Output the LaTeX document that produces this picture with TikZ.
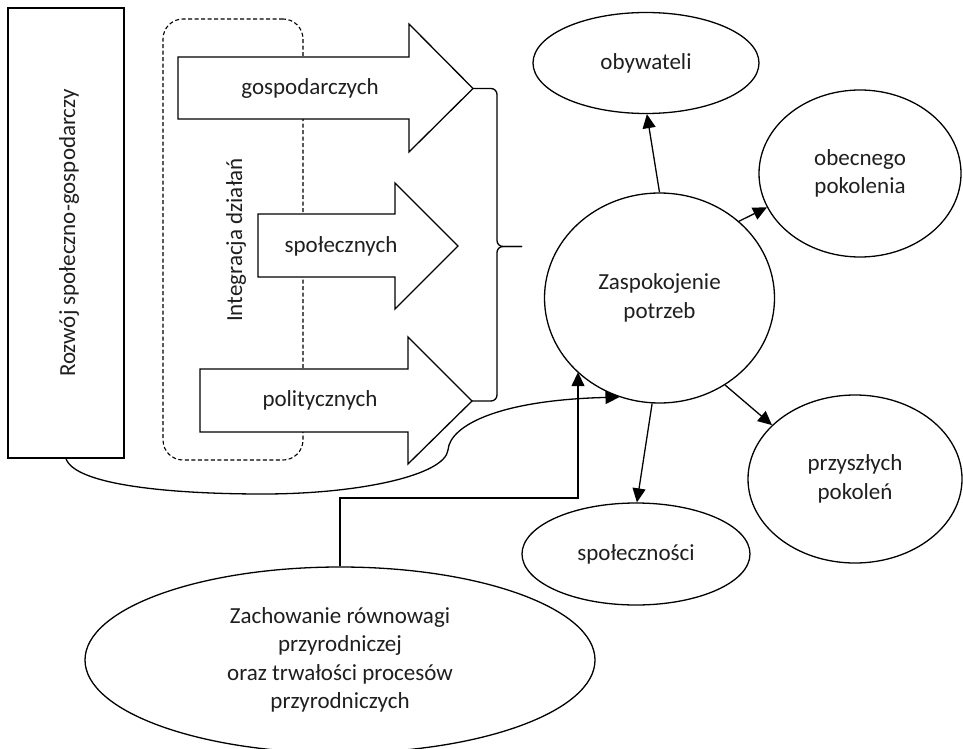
\documentclass[tikz,border=0pt]{standalone}
\usepackage{fontspec}
\setmainfont{Carlito}
\usetikzlibrary{arrows.meta,shapes.geometric}
\begin{document}
\begin{tikzpicture}[x=1pt,y=-1pt,
  every node/.style={font=\fontsize{23}{28.5}\selectfont, text=black!88},
  line/.style={line width=1.3pt, draw=black},
  oval/.style={line, ellipse, inner sep=0pt, align=center, fill=white},
  flow/.style={line, -{Triangle[length=14pt,width=13pt]}},
  bigarrow/.style={line, fill=white, line join=miter},
  frame/.style={draw=black, dash pattern=on 4pt off 2.5pt, line width=1.1pt,
                rounded corners=20pt, inner sep=0pt},
]
\useasboundingbox (0,0) rectangle (963,749);

% left column: development box and the dashed integration frame
\node[line, rectangle, inner sep=0pt, minimum width=116pt, minimum height=450pt] (rozwoj) at (66,233) {};
\node[rotate=90] (rozwojtxt) at (69,233) {Rozwój społeczno-gospodarczy};

\node[frame, rectangle, minimum width=140pt, minimum height=441pt] (integr) at (233,239.5) {};
\node[rotate=90] (integrtxt) at (236,240) {Integracja działań};

% three block arrows
\draw[bigarrow] (178,57) -- (409,57) -- (409,24) -- (473,88.5) -- (409,152) -- (409,119) -- (178,119) -- cycle;
\coordinate (tipA) at (473,88.5);
\node (gosp) at (310,88) {gospodarczych};

\draw[bigarrow] (258,214) -- (395,214) -- (395,183) -- (458,246) -- (395,309) -- (395,277) -- (258,277) -- cycle;
\node (spolecz) at (341,246) {społecznych};

\draw[bigarrow] (200,369) -- (408,369) -- (408,337) -- (472,401) -- (408,464) -- (408,432) -- (200,432) -- cycle;
\coordinate (tipC) at (472,401);
\node (polit) at (320,400) {politycznych};

% curly brace gathering the arrows
\coordinate (brace) at (522,246.5);
\draw[line, rounded corners=6pt] (tipA) -- (497,88.5) -- (497,246.5) -- (brace);
\draw[line, rounded corners=6pt] (tipC) -- (497,401) -- (497,246.5) -- (brace);

% needs and their recipients
\node[oval, minimum width=230pt, minimum height=210pt] (zasp) at (659.5,298) {Zaspokojenie\\potrzeb};
\node[oval, minimum width=226pt, minimum height=101pt] (obyw) at (646,63) {obywateli};
\node[oval, minimum width=202pt, minimum height=167pt] (obec) at (860,173.5) {obecnego\\pokolenia};
\node[oval, minimum width=214pt, minimum height=168pt] (przy) at (855,479) {przyszłych\\pokoleń};
\node[oval, minimum width=228pt, minimum height=102pt] (spol) at (636,554) {społeczności};
\node[oval, minimum width=510pt, minimum height=186pt] (zach) at (340,660)
  {Zachowanie równowagi\\przyrodniczej\\oraz trwałości procesów\\przyrodniczych};

\draw[flow] (zasp.90) -- (obyw.-89);
\draw[flow] (zasp.44) -- (obec.200);
\draw[flow] (zasp.-53) -- (przy.147);
\draw[flow] (zasp.-94) -- (spol.89);

% environmental balance feeding the needs
\coordinate (elbow) at (578,498);
\draw[flow] (zach.north) |- (elbow) -- (elbow |- zasp.-138);

% development curve running under the arrows
\draw[flow] (rozwoj.south) .. controls (75,485) and (170,494) .. (263,494)
  .. controls (360,494) and (445,475) .. (448,450)
  .. controls (450,425) and (500,400) .. (zasp.-112);
\end{tikzpicture}
\end{document}
